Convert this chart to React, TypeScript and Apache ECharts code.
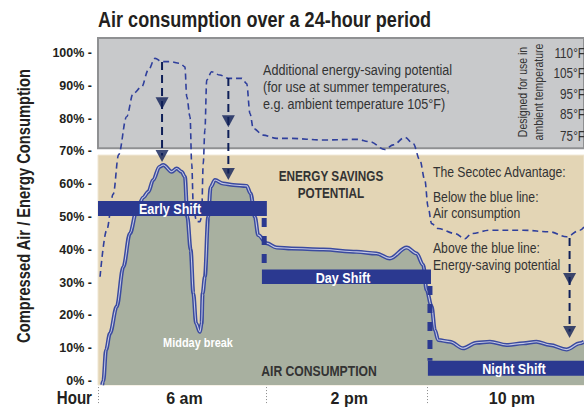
import React, { useEffect, useRef } from "react";
import * as echarts from "echarts";

// ---------- data ----------
// hours counted from the start of the early shift (2 am)
const airHours = [0.2, 0.26, 0.39, 0.58, 0.91, 1.23, 1.55, 1.88, 2.2, 2.44, 2.68, 2.98, 3.17, 3.58, 3.82, 4.06, 4.22, 4.34, 4.5, 4.63, 4.76, 4.95, 5.03, 5.08, 5.19, 5.35, 5.47, 5.68, 6.08, 6.57, 7.22, 7.41, 7.62, 7.78, 8.19, 8.67, 9.4, 10.94, 12.56, 13.52, 14.17, 14.99, 15.47, 15.79, 15.96, 16.2, 16.36, 16.52, 17.09, 17.73, 18.38, 19.03, 19.84, 20.65, 21.29, 21.94, 22.75, 23.4, 23.6];
const airPct = [-1.2, 0, 9.5, 14.5, 22.7, 34.8, 45, 52, 56, 57.7, 61.3, 65.3, 65.9, 63.8, 64.8, 63.8, 62.3, 50, 40, 26.7, 17.6, 15, 17.6, 26.7, 31.8, 50, 59.2, 61.3, 60.2, 59.8, 59.5, 57.2, 50, 44.5, 42, 40.7, 40.4, 40.1, 39.4, 38.9, 37.4, 40.7, 38.9, 35.4, 27.7, 22.7, 15.5, 12.5, 12, 10, 11.7, 12, 11, 11.5, 12, 11, 9.6, 11.5, 12];

const potentialHours = [0.1, 0.42, 0.74, 1.0, 1.39, 1.71, 2.12, 2.44, 2.77, 3.09, 3.5, 3.98, 4.22, 4.31, 4.47, 4.55, 4.63, 4.79, 4.95, 5.03, 5.11, 5.19, 5.28, 5.52, 5.92, 6.33, 6.98, 7.22, 7.38, 7.54, 8.02, 8.67, 9.32, 10.94, 12.56, 13.2, 13.93, 14.34, 14.9, 15.31, 15.63, 15.87, 16.03, 16.2, 16.52, 17.33, 17.82, 18.14, 19.03, 20.65, 21.94, 22.75, 23.4, 23.6];
const potentialPct = [31.8, 46, 57, 69, 80.6, 87.7, 89.7, 94.8, 98.4, 97.4, 97.4, 96.9, 95.8, 86.7, 80.6, 66.3, 53.1, 48.6, 48.6, 50, 66.3, 76.5, 91.8, 94.3, 93.3, 92.3, 92.3, 90.7, 81.6, 77, 75, 74, 74, 73.5, 73.7, 73, 70.6, 72, 74.3, 72.4, 67.4, 61.3, 53.1, 48, 46.5, 45, 43.4, 45, 46, 46, 45.5, 44, 46, 47];

const shiftNames = ["Early Shift", "Day Shift", "Night Shift"];
const shiftStart = [0, 7.96, 16.02];
const shiftEnd = [8.2, 16.17, 23.6];
const shiftLow = [50.3, 29.6, 1.6];
const shiftHigh = [54.9, 34.0, 6.2];
const shiftLabelHour = [3.5, 11.9, 20.2];

const connectorX = [8.07, 16.12];
const connectorFrom = [50.3, 29.6];
const connectorTo = [34.0, 6.2];

const arrowX = [3.11, 6.33, 22.9];
const arrowTop = [97.3, 92.4, 43.6];
const arrowTip1 = [82.9, 77.4, 29.3];
const arrowTip2 = [66.8, 61.3, 13.1];

const yTicks = [0, 10, 20, 30, 40, 50, 60, 70, 80, 90, 100];
const xLabelHours = [4.2, 12.2, 20.1];
const xLabels = ["6 am", "2 pm", "10 pm"];
const xDividers = [0, 8.15, 16];

const grayBand = [71, 104.6];
const beigeBand = [-1.2, 68.9];
const temps = ["110°F", "105°F", "95°F", "85°F", "75°F"];

const FONT = '"Liberation Sans", Arial, sans-serif';
const DARK = "#231f20";
const NARROW = 0.84;

export default function App() {
  const ref = useRef<HTMLDivElement>(null);
  useEffect(() => {
    if (!ref.current) return;
    const chart = echarts.init(ref.current, undefined, { renderer: "svg" });
    const air = airHours.map((h, i) => [h, airPct[i]]);
    const pot = potentialHours.map((h, i) => [h, potentialPct[i]]);
    const triSize = [13, 12];
    const triOffset = 6 / 3.28;

    const arrowSeries: any[] = [];
    arrowX.forEach((x, i) => {
      arrowSeries.push({
        type: "line",
        z: 6,
        silent: true,
        showSymbol: false,
        data: [[x, arrowTop[i]], [x, arrowTip2[i] + 2]],
        lineStyle: { color: "#0f1f58", width: 2, type: [8, 5] },
      });
    });
    arrowSeries.push({
      type: "scatter",
      z: 7,
      silent: true,
      symbol: "triangle",
      symbolRotate: 180,
      symbolSize: triSize,
      itemStyle: { color: "#0f1f58" },
      data: arrowX.flatMap((x, i) => [
        [x, arrowTip1[i] + triOffset],
        [x, arrowTip2[i] + triOffset],
      ]),
    });

    const connectorSeries = connectorX.map((x, i) => ({
      type: "line",
      z: 5,
      silent: true,
      showSymbol: false,
      data: [[x, connectorFrom[i] - 0.6], [x, connectorTo[i]]],
      lineStyle: { color: "#2b3990", width: 5, type: [9, 9] },
    }));

    const shiftSeries = {
      type: "custom",
      z: 8,
      silent: true,
      data: shiftNames.map((n, i) => [shiftStart[i], shiftEnd[i], shiftLow[i], shiftHigh[i], shiftLabelHour[i]]),
      renderItem: (params: any, api: any) => {
        const i = params.dataIndex;
        const p0 = api.coord([api.value(0), api.value(3)]);
        const p1 = api.coord([api.value(1), api.value(2)]);
        const pl = api.coord([api.value(4), (api.value(2) + api.value(3)) / 2]);
        return {
          type: "group",
          children: [
            {
              type: "rect",
              shape: { x: p0[0], y: p0[1], width: p1[0] - p0[0], height: p1[1] - p0[1] },
              style: { fill: "#2b3990" },
            },
            {
              type: "text",
              x: pl[0],
              y: pl[1] + 0.5,
              scaleX: NARROW,
              style: {
                text: shiftNames[i],
                font: `bold 15px ${FONT}`,
                fill: "#ffffff",
                align: "center",
                verticalAlign: "middle",
              },
            },
          ],
        };
      },
    };

    const txt = (text: string, x: number, y: number, font: string, extra: any = {}, rot = 0) => ({
      type: "text",
      x,
      y,
      z: 100,
      silent: true,
      rotation: rot,
      scaleX: NARROW,
      style: { text, font, fill: DARK, align: "left", verticalAlign: "middle", ...extra },
    });

    chart.setOption({
      animation: false,
      backgroundColor: "#ffffff",
      grid: { left: 98, right: 0, top: 38, bottom: 22 },
      xAxis: {
        type: "value",
        min: 0,
        max: 23.6,
        axisLine: { show: false },
        splitLine: { show: false },
        axisTick: {
          show: true,
          customValues: xDividers,
          length: 22,
          lineStyle: { color: "#8a8a8a", type: [1, 2], width: 1 },
        },
        axisLabel: {
          customValues: xLabelHours,
          formatter: (v: number) => xLabels[xLabelHours.indexOf(v)] ?? "",
          fontFamily: FONT,
          fontWeight: "bold",
          fontSize: 16,
          color: DARK,
          margin: 5,
        },
      },
      yAxis: {
        type: "value",
        min: -1.2,
        max: 104.6,
        axisLine: { show: false },
        splitLine: { show: false },
        axisTick: { show: false },
        axisLabel: {
          customValues: yTicks,
          formatter: (v: number) => `${v}% -`,
          fontFamily: FONT,
          fontWeight: "bold",
          fontSize: 12.5,
          color: DARK,
          margin: 6,
        },
      },
      series: [
        {
          type: "line",
          z: 0,
          silent: true,
          data: [],
          markArea: {
            silent: true,
            data: [
              [
                { coord: [0, grayBand[0]], itemStyle: { color: "#c8c9cb", borderColor: "#8f9092", borderWidth: 2 } },
                { coord: [23.6, grayBand[1]] },
              ],
              [
                { coord: [0, beigeBand[0]], itemStyle: { color: "#e3d5b5", borderColor: "#efe6d2", borderWidth: 1 } },
                { coord: [23.6, beigeBand[1]] },
              ],
            ],
          },
        },
        {
          type: "line",
          z: 2,
          silent: true,
          data: air,
          smooth: 0.35,
          smoothMonotone: "x",
          showSymbol: false,
          lineStyle: { color: "#3a4a9f", width: 4 },
          areaStyle: { color: "#a8b0a0", opacity: 1, origin: "start" },
        },
        {
          type: "line",
          z: 3,
          silent: true,
          data: air,
          smooth: 0.35,
          smoothMonotone: "x",
          showSymbol: false,
          lineStyle: { color: "#c3c7e4", width: 1.1 },
        },
        {
          type: "line",
          z: 3,
          silent: true,
          data: pot,
          smooth: 0.35,
          smoothMonotone: "x",
          showSymbol: false,
          lineStyle: { color: "#2f3f9c", width: 1.6, type: [6, 4] },
        },
        ...connectorSeries,
        shiftSeries,
        ...arrowSeries,
      ],
      graphic: [
        txt("Air consumption over a 24-hour period", 98, 19, `bold 21.5px ${FONT}`),
        txt("Compressed Air / Energy Consumption", 24, 206, `bold 17.5px ${FONT}`, { align: "center" }, Math.PI / 2),
        txt("Hour", 92, 398, `bold 18px ${FONT}`, { align: "right" }),
        txt("Additional energy-saving potential", 263, 70, `15px ${FONT}`, { fill: "#333" }),
        txt("(for use at summer temperatures,", 263, 87, `15px ${FONT}`, { fill: "#333" }),
        txt("e.g. ambient temperature 105°F)", 263, 104, `15px ${FONT}`, { fill: "#333" }),
        txt("Designed for use in", 523, 92, `12.5px ${FONT}`, { align: "center", fill: "#333" }, Math.PI / 2),
        txt("ambient temperature", 539, 92, `12.5px ${FONT}`, { align: "center", fill: "#333" }, Math.PI / 2),
        ...temps.map((t, i) => txt(t, 585, [53, 73, 94, 114, 136][i], `14px ${FONT}`, { align: "right", fill: "#333" })),
        txt("ENERGY SAVINGS", 331, 176, `bold 14px ${FONT}`, { align: "center", fill: "#333" }),
        txt("POTENTIAL", 331, 193, `bold 14px ${FONT}`, { align: "center", fill: "#333" }),
        txt("The Secotec Advantage:", 433, 172, `14.5px ${FONT}`, { fill: "#333" }),
        txt("Below the blue line:", 433, 197, `14.5px ${FONT}`, { fill: "#333" }),
        txt("Air consumption", 433, 213, `14.5px ${FONT}`, { fill: "#333" }),
        txt("Above the blue line:", 433, 248, `14.5px ${FONT}`, { fill: "#333" }),
        txt("Energy-saving potential", 433, 265, `14.5px ${FONT}`, { fill: "#333" }),
        txt("Midday break", 198, 343, `bold 13px ${FONT}`, { align: "center", fill: "#ffffff" }),
        txt("AIR CONSUMPTION", 319, 371, `bold 14.5px ${FONT}`, { align: "center", fill: "#333" }),
      ],
    });
    return () => chart.dispose();
  }, []);
  return <div ref={ref} style={{ width: 584, height: 407, position: "fixed", left: 0, top: 0 }} />;
}
